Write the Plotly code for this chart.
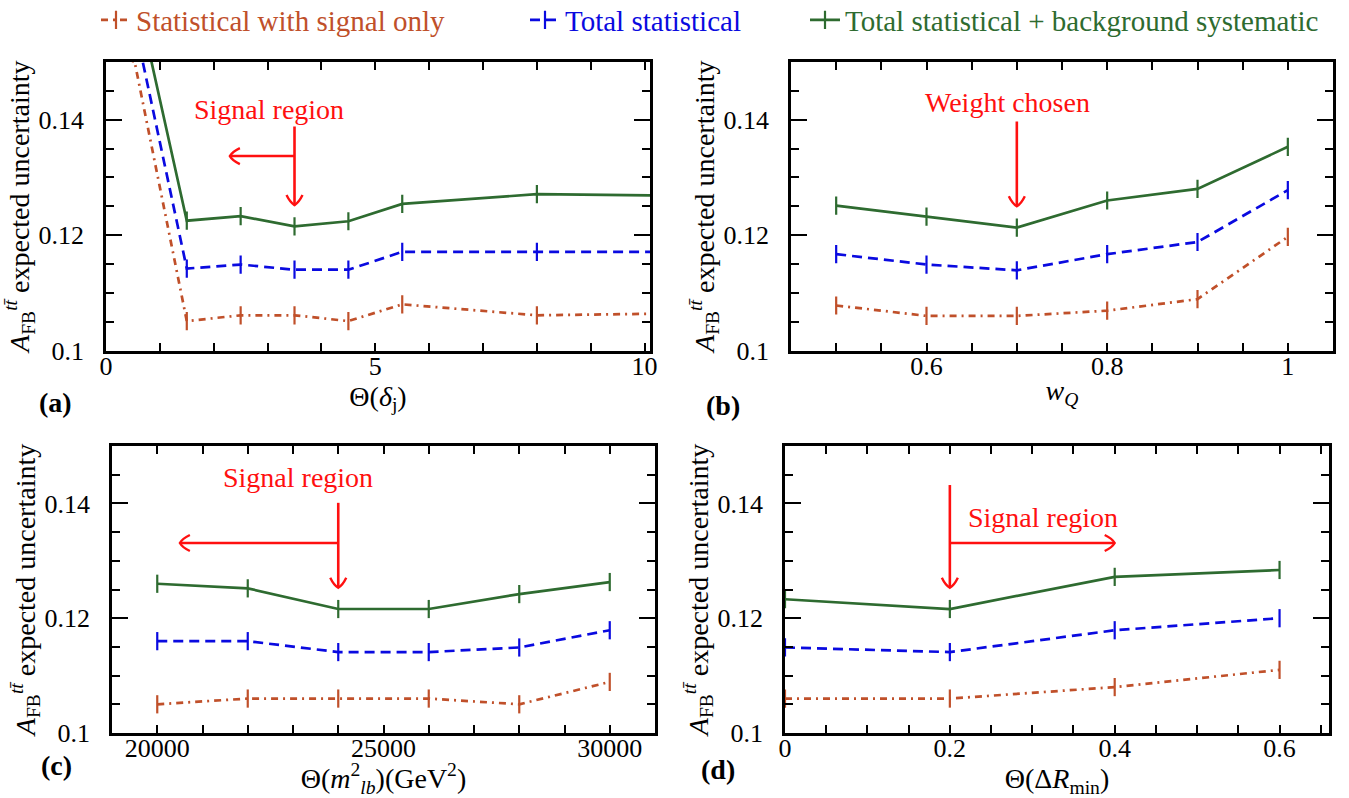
import plotly.graph_objects as go

# ---------------- data ----------------
a_x = [0.5, 1.5, 2.5, 3.5, 4.5, 5.5, 8, 12]
a_sig = [0.1515, 0.1051, 0.1061, 0.1061, 0.1051, 0.1080, 0.1061, 0.1066]
a_stat = [0.1580, 0.1142, 0.1149, 0.1140, 0.1140, 0.1171, 0.1171, 0.1171]
a_syst = [0.1645, 0.1225, 0.1233, 0.1215, 0.1224, 0.1254, 0.1271, 0.1267]

b_x = [0.5, 0.6, 0.7, 0.8, 0.9, 1.0]
b_sig = [0.1078, 0.1060, 0.1060, 0.1069, 0.1089, 0.1197]
b_stat = [0.1167, 0.1149, 0.1139, 0.1167, 0.1188, 0.1278]
b_syst = [0.1251, 0.1232, 0.1213, 0.1260, 0.1280, 0.1353]

c_x = [20000, 22000, 24000, 26000, 28000, 30000]
c_sig = [0.1050, 0.1060, 0.1060, 0.1060, 0.1050, 0.1089]
c_stat = [0.1160, 0.1160, 0.1141, 0.1141, 0.1149, 0.1179]
c_syst = [0.1260, 0.1252, 0.1216, 0.1216, 0.1242, 0.1263]

d_x = [0, 0.2, 0.4, 0.6]
d_sig = [0.1060, 0.1060, 0.1080, 0.1110]
d_stat = [0.1149, 0.1141, 0.1179, 0.1200]
d_syst = [0.1233, 0.1216, 0.1272, 0.1284]

series_names = ["Statistical with signal only", "Total statistical",
                "Total statistical + background systematic"]
x_titles = ["Θ(<i>δ</i><sub>j</sub>)", "<i>w<sub>Q</sub></i>",
            "Θ(<i>m</i><sup>2</sup><sub><i>lb</i></sub>)(GeV<sup>2</sup>)",
            "Θ(Δ<i>R</i><sub>min</sub>)"]
y_title = "<i>A</i><sub>FB</sub><sup><i>tt̄</i></sup> expected uncertainty"
panel_labels = ["(a)", "(b)", "(c)", "(d)"]

# ---------------- style ----------------
FONT = "Liberation Serif"
FS = 28
BROWN = "#c0502a"
BLUE = "#0a0ae0"
GREEN = "#2e6b30"
RED = "#ff1010"
colors = [BROWN, BLUE, GREEN]
dashes = ["7px,5px,2px,5px", "10px,6px", "solid"]
legends = ["legend", "legend2", "legend3"]

W, H = 1349, 798
# pixel boxes of the four panels: (left, right, top, bottom)
boxes = [(106, 650, 62, 350.5), (791, 1333, 62, 350.5),
         (112, 655, 446, 733), (785, 1329, 446, 733)]
xranges = [[0, 10.1], [0.45, 1.05], [19000, 31000], [0, 0.66]]
xdticks = [(5, 1), (0.2, 0.05), (5000, 1000), (0.2, 0.05)]
xformats = ["", "", "d", ""]
yrange = [0.1, 0.15]

panels = [(a_x, [a_sig, a_stat, a_syst]), (b_x, [b_sig, b_stat, b_syst]),
          (c_x, [c_sig, c_stat, c_syst]), (d_x, [d_sig, d_stat, d_syst])]

fig = go.Figure()
for p, (xs, ys_list) in enumerate(panels):
    xa = "x" if p == 0 else f"x{p+1}"
    ya = "y" if p == 0 else f"y{p+1}"
    for s, ys in enumerate(ys_list):
        fig.add_trace(go.Scatter(
            x=xs, y=ys, mode="lines+markers", xaxis=xa, yaxis=ya,
            name=series_names[s], legend=legends[s], showlegend=(p == 0),
            line=dict(color=colors[s], width=2.7, dash=dashes[s]),
            marker=dict(symbol="line-ns", size=13,
                        line=dict(color=colors[s], width=2.2)),
            cliponaxis=True,
        ))

axis_line = dict(showline=True, linecolor="black", linewidth=2.8, mirror="ticks",
                 ticks="inside", tickcolor="black", tickwidth=2, showgrid=False,
                 zeroline=False, automargin=False)
layout = dict(width=W, height=H,
              margin=dict(l=0, r=0, t=0, b=0, autoexpand=False),
              paper_bgcolor="white", plot_bgcolor="white", autosize=False,
              font=dict(family=FONT, size=FS, color="black"))
for p in range(4):
    l, r, t, b = boxes[p]
    sfx = "" if p == 0 else str(p + 1)
    dt, mdt = xdticks[p]
    layout["xaxis" + sfx] = dict(
        axis_line, domain=[l / W, r / W], anchor="y" + sfx, range=xranges[p],
        dtick=dt, tick0=0, ticklen=8, exponentformat="none",
        tickformat=xformats[p],
        minor=dict(dtick=mdt, tick0=0, ticks="inside", ticklen=8, tickwidth=2,
                   tickcolor="black"),
        tickfont=dict(family=FONT, size=26), ticklabelstandoff=-10,
        title=dict(text=x_titles[p], font=dict(family=FONT, size=FS), standoff=1))
    layout["yaxis" + sfx] = dict(
        axis_line, domain=[1 - b / H, 1 - t / H], anchor="x" + sfx, range=yrange,
        dtick=0.02, tick0=0, ticklen=16,
        minor=dict(dtick=0.005, tick0=0, ticks="inside", ticklen=8, tickwidth=2,
                   tickcolor="black"),
        tickfont=dict(family=FONT, size=26), ticklabelstandoff=14,
        title=dict(text=y_title, font=dict(family=FONT, size=FS), standoff=0))
# panel (c): give the taller title (sub- and superscript) a little more room
layout["xaxis3"]["automargin"] = True
layout["xaxis3"]["title"]["standoff"] = 6

# legends (one entry each, coloured text)
leg_x = [96, 525, 805]
for s in range(3):
    layout[legends[s]] = dict(
        x=leg_x[s] / W, y=1 - 20 / H, xref="container", yref="container",
        xanchor="left", yanchor="middle",
        orientation="h", bgcolor="rgba(0,0,0,0)",
        font=dict(family=FONT, size=29, color=colors[s]))
fig.update_layout(**layout)

# panel labels
lab_pos = [(37, 402), (723, 405), (39, 783), (718, 787)]
for p in range(4):
    fig.add_annotation(text=f"<b>{panel_labels[p]}</b>", x=lab_pos[p][0] / W,
                       y=1 - lab_pos[p][1] / H, xref="paper", yref="paper",
                       showarrow=False, font=dict(family=FONT, size=FS, color="black"))

# ---------------- red annotations (arrows + text) ----------------
def scale(p):
    l, r, t, b = boxes[p]
    sx = (r - l) / (xranges[p][1] - xranges[p][0])
    sy = (b - t) / (yrange[1] - yrange[0])
    return sx, sy


def refs(p):
    sfx = "" if p == 0 else str(p + 1)
    return "x" + sfx, "y" + sfx


def arrow(p, x0, y0, x1, y1):
    xr, yr = refs(p)
    sx, sy = scale(p)
    fig.add_shape(type="line", xref=xr, yref=yr, x0=x0, y0=y0, x1=x1, y1=y1,
                  line=dict(color=RED, width=2.6), layer="above")
    dxp = (x1 - x0) * sx
    dyp = -(y1 - y0) * sy
    n = (dxp ** 2 + dyp ** 2) ** 0.5
    ux, uy = dxp / n, dyp / n
    px, py = -uy, ux
    L, Wd = 10, 8

    def to_data(ox, oy):
        return x1 + ox / sx, y1 - oy / sy

    pts = []
    for sgn in (1, -1):
        end = to_data(-L * ux + sgn * Wd * px, -L * uy + sgn * Wd * py)
        ctl = to_data(-0.25 * L * ux + sgn * 0.55 * Wd * px,
                      -0.25 * L * uy + sgn * 0.55 * Wd * py)
        pts.append((end, ctl))
    (e1, c1), (e2, c2) = pts
    path = (f"M {e1[0]},{e1[1]} Q {c1[0]},{c1[1]} {x1},{y1} "
            f"Q {c2[0]},{c2[1]} {e2[0]},{e2[1]}")
    fig.add_shape(type="path", xref=xr, yref=yr, path=path,
                  line=dict(color=RED, width=2.4), layer="above")


def red_text(p, x, y, txt):
    xr, yr = refs(p)
    fig.add_annotation(text=txt, x=x, y=y, xref=xr, yref=yr, showarrow=False,
                       font=dict(family=FONT, size=FS, color=RED))

# (a)
red_text(0, 3.02, 0.1418, "Signal region")
arrow(0, 3.5, 0.1388, 3.5, 0.1252)
arrow(0, 3.5, 0.1337, 2.3, 0.1337)
# (b)
red_text(1, 0.69, 0.1430, "Weight chosen")
arrow(1, 0.7, 0.1397, 0.7, 0.1250)
# (c)
red_text(2, 23100, 0.1446, "Signal region")
arrow(2, 24000, 0.1401, 24000, 0.1253)
arrow(2, 24000, 0.1331, 20500, 0.1331)
# (d)
red_text(3, 0.313, 0.1375, "Signal region")
arrow(3, 0.2, 0.1432, 0.2, 0.1253)
arrow(3, 0.2, 0.1331, 0.4, 0.1331)

fig.write_html("out.html", config={"displayModeBar": False},
               post_script="document.body.style.margin='0';"
                           "document.body.style.overflow='hidden';")
